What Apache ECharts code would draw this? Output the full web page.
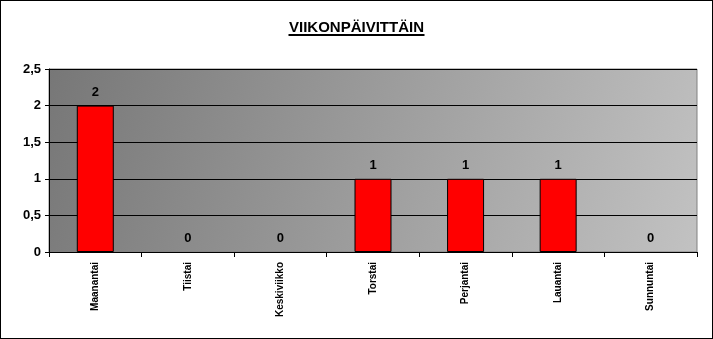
<!DOCTYPE html>
<html><head><meta charset="utf-8">
<script src="https://cdn.jsdelivr.net/npm/echarts@6/dist/echarts.min.js"></script>
<style>html,body{margin:0;padding:0;background:#fff}#c{width:713px;height:339px;box-sizing:border-box;border:1px solid #000}</style>
</head><body><div id="c"></div>
<script>
var title = 'VIIKONPÄIVITTÄIN';
var categories = ['Maanantai','Tiistai','Keskiviikko','Torstai','Perjantai','Lauantai','Sunnuntai'];
var values = [2,0,0,1,1,1,0];
var yTicks = ['0','0,5','1','1,5','2','2,5'];

var chart = echarts.init(document.getElementById('c'), null, {renderer:'canvas'});
var barData = values.map(function(v){
  return v === 0 ? {value:v,itemStyle:{borderWidth:0,opacity:0}} : {value:v};
});
chart.setOption({
  animation:false,
  title:{text:title,left:'center',top:14,textStyle:{fontFamily:'Liberation Sans, Arial',fontSize:15,fontWeight:'bold',color:'#000'}},
  graphic:[{type:'rect',left:'center',top:33,shape:{width:136,height:2},style:{fill:'#000'}}],
  grid:{left:48,right:15,top:68,bottom:86,show:true,borderWidth:1,borderColor:'#808080',
    backgroundColor:new echarts.graphic.LinearGradient(0,0,1,1,[{offset:0,color:'#777777'},{offset:1,color:'#c2c2c2'}])},
  xAxis:{type:'category',data:categories,
    axisLine:{lineStyle:{color:'#000',width:1}},
    axisTick:{show:true,length:5,lineStyle:{color:'#000'},alignWithLabel:false},
    axisLabel:{rotate:90,fontFamily:'Liberation Sans, Arial',fontSize:10,fontWeight:'bold',color:'#000',margin:10}},
  yAxis:{type:'value',min:0,max:2.5,interval:0.5,
    axisLine:{show:true,lineStyle:{color:'#000'}},
    axisTick:{show:true,length:4,lineStyle:{color:'#000'}},
    splitLine:{lineStyle:{color:'#000',width:1}},
    axisLabel:{fontFamily:'Liberation Sans, Arial',fontSize:13,fontWeight:'bold',color:'#000',margin:8,
      formatter:function(v){return yTicks[Math.round(v/0.5)];}}},
  series:[{type:'bar',data:barData,barWidth:37,
    itemStyle:{color:'#ff0000',borderColor:'#000',borderWidth:1},
    label:{show:true,position:'top',distance:7,fontFamily:'Liberation Sans, Arial',fontSize:13,fontWeight:'bold',color:'#000',opacity:1}}]
});
</script></body></html>
